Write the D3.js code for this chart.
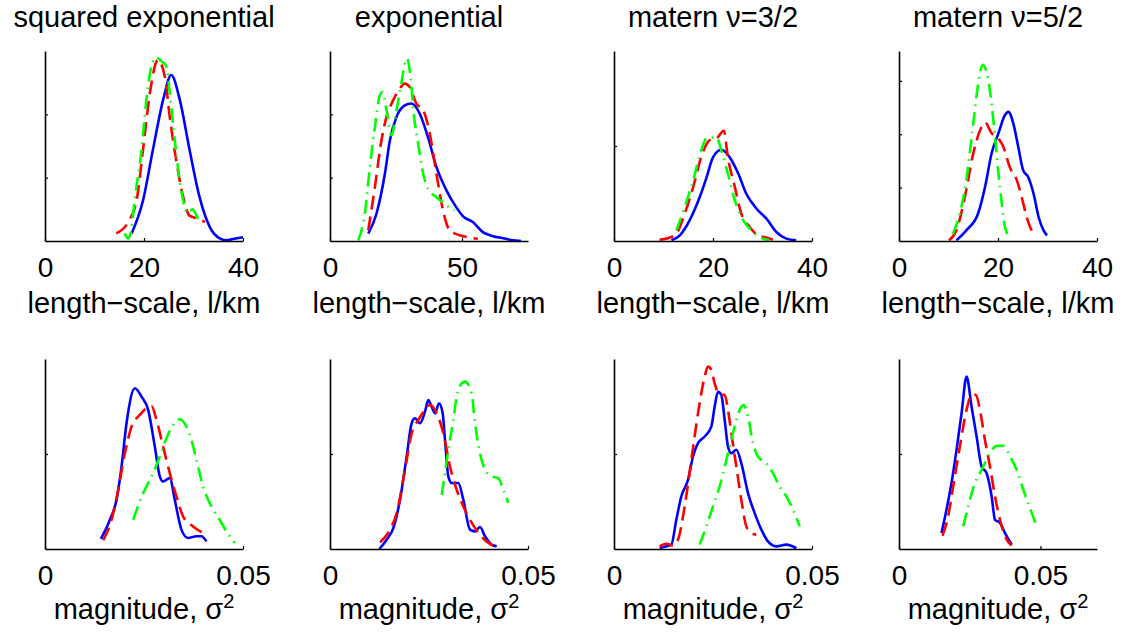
<!DOCTYPE html>
<html>
<head>
<meta charset="utf-8">
<script src="https://cdn.jsdelivr.net/npm/d3@7"></script>
<style>
  html, body { margin: 0; padding: 0; background: #fff; }
  svg { display: block; }
  text { font-family: "Liberation Sans", Arial, Helvetica, sans-serif; fill: #000; }
</style>
</head>
<body>
<svg id="chart" width="1136" height="641"></svg>
<script>
// ---------------- data ----------------
const titles = ["squared exponential", "exponential", "matern \u03bd=3/2", "matern \u03bd=5/2"];
const seriesNames = ["blue", "red", "green"];

// length-scale row (km)
const lengthXMax   = [40, 75, 40, 40];
const lengthXTicks = [[0, 20, 40], [0, 50], [0, 20, 40], [0, 20, 40]];
const lengthYMax   = [0.15, 0.06, 0.2, 0.178];
const lengthYTicks = [[0.05, 0.1], [0.02, 0.04], [0.1], [0.05, 0.1, 0.15]];

// magnitude row (sigma^2)
const magXMax   = [0.05, 0.05, 0.05, 0.07];
const magXTicks = [[0, 0.05], [0, 0.05], [0, 0.05], [0, 0.05]];
const magYMax   = [100, 100, 100, 100];
const magYTicks = [[50], [50], [50], [50]];

// squared exponential, length-scale
const sqexpLenBlue = [[17.5,0.006],[19.8,0.032],[21.8,0.072],[23.9,0.112],[25.5,0.131],[27.2,0.112],[29.2,0.072],[31.2,0.035],[33.3,0.011],[35.3,0.002],[36.6,0.0005],[38,0.0016],[40,0.003]];
const sqexpLenRed  = [[14.4,0.006],[16.8,0.015],[18.5,0.032],[19.8,0.072],[21.2,0.117],[22.8,0.143],[24.2,0.130],[25.2,0.098],[26.5,0.064],[27.9,0.035],[29.2,0.020],[30.6,0.018],[32.3,0.015]];
const sqexpLenGreen= [[16.1,0.006],[16.8,0.002],[17.4,0.008],[18.1,0.032],[19.5,0.072],[20.5,0.112],[21.5,0.138],[22.4,0.145],[23.5,0.142],[24.5,0.138],[25.2,0.117],[26.2,0.080],[27.6,0.038],[28.9,0.022],[29.8,0.025],[30.5,0.021],[31.2,0.015]];

// exponential, length-scale
const expLenBlue = [[14.5,0.0023],[17.6,0.0086],[20.8,0.0213],[22.7,0.0318],[25.2,0.0392],[28.3,0.0428],[30.8,0.0434],[34,0.0402],[37.1,0.0328],[40.3,0.0234],[44.1,0.016],[47.8,0.0107],[50.4,0.0078],[54.1,0.006],[57.9,0.0028],[61.7,0.0015],[65.5,0.0009],[69.2,0.0002],[72.4,0]];
const expLenRed  = [[14.5,0.0034],[17,0.017],[19.5,0.0318],[21.4,0.0392],[23.9,0.0444],[26.4,0.0481],[28.3,0.0497],[30.2,0.0486],[32.7,0.0434],[35.3,0.0413],[37.8,0.0339],[40.3,0.0213],[42.8,0.0097],[45.3,0.0034],[49.1,0.0018],[52.9,0.0011],[56,0.0007]];
const expLenGreen= [[10.7,0.0002],[13.2,0.0086],[15.1,0.0234],[17,0.036],[18.9,0.046],[19.9,0.047],[21.4,0.0413],[23.3,0.0334],[25.2,0.0413],[27,0.0497],[28.7,0.057],[29.2,0.0576],[30.5,0.0518],[31.7,0.0402],[33.4,0.0307],[35.3,0.0213],[37.1,0.0165],[40.3,0.0139],[44.1,0.0113],[47.2,0.0097]];

// matern 3/2, length-scale
const m32LenBlue = [[11.6,0.0007],[13.3,0.006],[15.3,0.022],[17.3,0.046],[18.7,0.067],[20,0.088],[21.7,0.096],[23.4,0.088],[25.1,0.071],[26.7,0.050],[28.8,0.034],[30.8,0.0235],[32.8,0.0095],[34.8,0.0025],[36.8,0.0007]];
const m32LenRed  = [[9.2,0.0014],[11.2,0.0035],[12.6,0.0077],[14.3,0.029],[16,0.057],[17.6,0.088],[19.3,0.106],[20.7,0.108],[22.2,0.116],[23,0.088],[24.4,0.057],[25.7,0.029],[27.4,0.0147],[29.1,0.006],[30.8,0.0035],[32.1,0.0014]];
const m32LenGreen= [[12.6,0.011],[14.3,0.036],[16,0.064],[17.6,0.095],[18.7,0.108],[20.7,0.109],[21.7,0.095],[23,0.071],[24.4,0.043],[26.1,0.022],[27.4,0.013],[29.4,0.0042],[31.4,0.0007]];

// matern 5/2, length-scale
const m52LenBlue = [[11.6,0.0006],[13.6,0.010],[16,0.026],[17.4,0.051],[18.7,0.082],[20.1,0.101],[21.4,0.118],[22.1,0.121],[23.1,0.110],[24.1,0.088],[25.1,0.066],[26.1,0.060],[27.2,0.044],[28.2,0.0225],[29.2,0.010],[29.9,0.0053]];
const m52LenRed  = [[10.1,0.0006],[11.6,0.010],[13.3,0.041],[15,0.082],[16.4,0.104],[17.4,0.111],[18.7,0.101],[20.1,0.096],[21.1,0.088],[22.4,0.069],[23.8,0.057],[24.8,0.041],[25.8,0.0225],[27.2,0.0069],[27.5,0.0053]];
const m52LenGreen= [[10.9,0.0069],[12.3,0.026],[13.6,0.057],[15,0.110],[16,0.147],[16.9,0.165],[17.7,0.158],[18.7,0.129],[19.4,0.097],[20.1,0.063],[20.7,0.038],[21.4,0.013],[22.4,0.0037]];

// squared exponential, magnitude
const sqexpMagBlue = [[0.01412,5.3],[0.01639,15.4],[0.01807,25.9],[0.01933,43.4],[0.02059,66.2],[0.02269,84.6],[0.02437,80.2],[0.02605,73.2],[0.02773,53.9],[0.02899,38.2],[0.02983,35.5],[0.03151,37.3],[0.03277,25.9],[0.03445,10.2],[0.03613,5.8],[0.03824,6.7],[0.0395,6.7],[0.04076,4.0]];
const sqexpMagRed  = [[0.01471,4.6],[0.01681,15.4],[0.01849,31.2],[0.02017,50.4],[0.02185,64.4],[0.02395,70.6],[0.02563,74.1],[0.02689,75.3],[0.02815,67.9],[0.02983,53.9],[0.03151,39.9],[0.03319,27.7],[0.03487,17.2],[0.03739,11.9],[0.03992,8.4]];
const sqexpMagGreen= [[0.02227,15.4],[0.02479,29.4],[0.02731,39.9],[0.02899,48.7],[0.03067,58.3],[0.03235,65.3],[0.03403,68.3],[0.03571,64.4],[0.03697,57.4],[0.03824,46.9],[0.03992,32.9],[0.04202,22.4],[0.04412,15.4],[0.0458,9.3],[0.0479,3.2]];

// exponential, magnitude
const expMagBlue = [[0.01246,0],[0.01431,4.9],[0.01599,11],[0.01768,25.9],[0.01936,48.7],[0.02062,66.2],[0.02146,68.8],[0.02273,66.2],[0.02399,72.3],[0.02483,78.4],[0.02567,74.9],[0.02652,71.4],[0.02753,76.7],[0.02845,71.4],[0.02904,57.4],[0.02988,38.2],[0.03072,34.7],[0.0324,34.7],[0.03367,25.9],[0.03535,10.2],[0.03662,9.3],[0.03788,11.6],[0.03914,6.7],[0.04082,2.3],[0.04209,1.4]];
const expMagRed  = [[0.01263,3.5],[0.01515,10.2],[0.01684,18.9],[0.01894,41.7],[0.02062,60.9],[0.0223,67.9],[0.02399,73.2],[0.02525,75.8],[0.02694,71.4],[0.02862,60.9],[0.0303,43.4],[0.03199,31.2],[0.03367,22.4],[0.03535,15.4],[0.03788,7.5],[0.03998,3.2],[0.04209,1.4]];
const expMagGreen= [[0.0282,28.5],[0.02904,39.9],[0.02988,52.2],[0.03114,67.9],[0.03199,80.2],[0.03325,87.2],[0.03409,88.1],[0.03577,81.9],[0.03662,66.2],[0.03788,50.4],[0.03914,41.7],[0.04082,38.2],[0.0425,37.3],[0.04377,31.2],[0.04503,24.2]];

// matern 3/2, magnitude
const m32MagBlue = [[0.01153,0.5],[0.01322,1.4],[0.01448,2.3],[0.01574,15.4],[0.017,27.7],[0.01869,36.4],[0.01995,48.7],[0.02121,55.7],[0.0229,59.2],[0.02458,64.4],[0.02542,74.9],[0.02626,82.8],[0.0271,81.1],[0.02795,67.9],[0.02879,53.9],[0.02963,50.4],[0.03089,52.2],[0.03215,45.2],[0.03384,29.4],[0.03552,18.9],[0.03721,10.2],[0.03889,4.0],[0.04099,1.4],[0.04352,2.3],[0.04604,0.4]];
const m32MagRed  = [[0.01153,1.4],[0.01322,2.8],[0.0149,1.8],[0.01616,4.9],[0.01785,22.4],[0.01953,46.9],[0.02121,71.4],[0.0229,90.7],[0.02374,96],[0.02458,94.2],[0.02542,87.2],[0.02668,81.1],[0.02795,81.1],[0.02879,73.2],[0.02963,60.9],[0.03089,43.4],[0.03215,25.9],[0.03342,11.9],[0.03468,8.4],[0.03594,7.5]];
const m32MagGreen= [[0.02163,2.3],[0.02332,11.9],[0.025,22.4],[0.02668,32.9],[0.02837,46.9],[0.02963,57.4],[0.03089,67.9],[0.03215,74.9],[0.03274,75.8],[0.03384,69.7],[0.0351,55.7],[0.03636,48.7],[0.03847,45.2],[0.04015,39.9],[0.04183,32.9],[0.04352,27.7],[0.0452,20.7],[0.04689,11.9]];

// matern 5/2, magnitude
const m52MagBlue = [[0.01502,8.4],[0.01679,20.7],[0.01856,34.7],[0.02034,52.2],[0.02211,71.4],[0.02389,90.7],[0.02566,74.9],[0.02743,59.2],[0.0292,43.4],[0.03098,39.9],[0.03275,27.7],[0.03394,15.4],[0.03571,13.7],[0.03748,8.4],[0.03985,2.3]];
const m52MagRed  = [[0.01537,7.0],[0.01738,17.2],[0.01915,32.9],[0.02152,53.9],[0.02389,73.2],[0.02566,81.1],[0.0272,81.1],[0.02861,73.2],[0.03039,57.4],[0.03216,43.4],[0.03394,27.7],[0.03571,15.4],[0.03748,6.7],[0.03985,1.8]];
const m52MagGreen= [[0.0227,11.9],[0.02448,22.4],[0.02684,34.7],[0.02861,39.9],[0.03039,45.2],[0.03216,50.4],[0.03453,54.3],[0.03689,54.3],[0.03926,48.7],[0.04162,41.7],[0.04339,33.8],[0.04517,25.9],[0.04694,18.9],[0.04871,11.9]];

const lengthSeries = [
  [sqexpLenBlue, sqexpLenRed, sqexpLenGreen],
  [expLenBlue, expLenRed, expLenGreen],
  [m32LenBlue, m32LenRed, m32LenGreen],
  [m52LenBlue, m52LenRed, m52LenGreen]
];
const magSeries = [
  [sqexpMagBlue, sqexpMagRed, sqexpMagGreen],
  [expMagBlue, expMagRed, expMagGreen],
  [m32MagBlue, m32MagRed, m32MagGreen],
  [m52MagBlue, m52MagRed, m52MagGreen]
];

// ---------------- layout & style ----------------
const axLeft = [45, 330, 614, 899];
const axW = 198, axH = 190;
const rowTop = [51, 359];
const lineColors = ["#0000ff", "#ff0000", "#00ff00"];
const lineDash = [null, "14,7", "14,6,1.5,6"];

const svg = d3.select("#chart");

function drawPanel(col, row, xMax, xTicks, yMax, yTicks, series, label) {
  const x0 = axLeft[col], y0 = rowTop[row];
  const g = svg.append("g").attr("transform", `translate(${x0},${y0})`);
  const x = d3.scaleLinear().domain([0, xMax]).range([0, axW]);
  const y = d3.scaleLinear().domain([0, yMax]).range([axH, 0]);

  const line = d3.line().x(d => x(d[0])).y(d => y(d[1])).curve(d3.curveMonotoneX);
  series.forEach((s, i) => {
    g.append("path")
      .datum(s)
      .attr("fill", "none")
      .attr("stroke", lineColors[i])
      .attr("stroke-width", 2.6)
      .attr("stroke-linejoin", "round")
      .attr("stroke-dasharray", lineDash[i])
      .attr("d", line);
  });

  const xAxis = d3.axisBottom(x).tickValues(xTicks).tickSizeInner(-3).tickSizeOuter(0)
    .tickPadding(16).tickFormat(d => String(d));
  const gx = g.append("g").attr("transform", `translate(0,${axH})`).call(xAxis);
  gx.select(".domain").attr("stroke", "#000").attr("stroke-width", 1.6);
  gx.selectAll(".tick line").attr("stroke", "#000").attr("stroke-width", 1.2);
  gx.selectAll(".tick text").attr("font-size", 28).attr("font-family", null);

  const yAxis = d3.axisLeft(y).tickValues(yTicks).tickSizeInner(-3).tickSizeOuter(0).tickFormat("");
  const gy = g.append("g").call(yAxis);
  gy.select(".domain").attr("stroke", "#000").attr("stroke-width", 1.6);
  gy.selectAll(".tick line").attr("stroke", "#000").attr("stroke-width", 1.2);

  const lab = g.append("text")
    .attr("x", axW / 2)
    .attr("y", axH + (row === 0 ? 72 : 70))
    .attr("text-anchor", "middle")
    .attr("font-size", 29);
  if (row === 0) {
    lab.text(label);
  } else {
    lab.append("tspan").text("magnitude, \u03c3");
    lab.append("tspan").attr("font-size", 20).attr("dy", -11).text("2");
  }
}

for (let c = 0; c < 4; c++) {
  svg.append("text")
    .attr("x", axLeft[c] + axW / 2)
    .attr("y", 27)
    .attr("text-anchor", "middle")
    .attr("font-size", 29)
    .text(titles[c]);
  drawPanel(c, 0, lengthXMax[c], lengthXTicks[c], lengthYMax[c], lengthYTicks[c], lengthSeries[c], "length\u2212scale, l/km");
  drawPanel(c, 1, magXMax[c], magXTicks[c], magYMax[c], magYTicks[c], magSeries[c], null);
}
</script>
</body>
</html>
